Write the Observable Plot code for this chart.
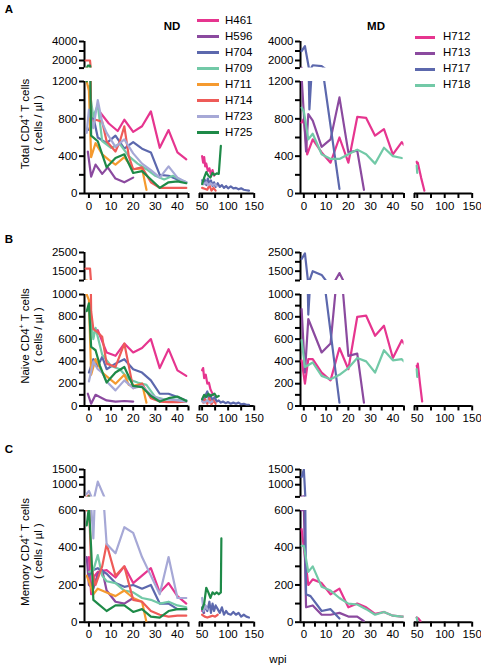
<!DOCTYPE html>
<html><head><meta charset="utf-8">
<script src="https://cdn.jsdelivr.net/npm/d3@7"></script>
<script src="https://cdn.jsdelivr.net/npm/@observablehq/plot@0.6"></script>
<style>
body{margin:0;background:#fff;font-family:"Liberation Sans",Arial,sans-serif;}
#chart{position:relative;width:481px;height:667px;overflow:hidden;background:#fff;}
.t{position:absolute;font-size:11.5px;color:#000;white-space:nowrap;line-height:1;}
.b{font-weight:bold;}
sup{font-size:7px;vertical-align:5px;line-height:0;}
</style></head><body><div id="chart"></div>
<script>
// ---------- series identity ----------
const ndIds = ["H461","H596","H704","H709","H711","H714","H723","H725"];
const ndColors = ["#e6358f","#8b4a9f","#5c68ad","#72c9a7","#f59a2f","#ee5b58","#a6a8d6","#1e8a48"];
const mdIds = ["H712","H713","H717","H718"];
const mdColors = ["#e6358f","#8b4a9f","#5c68ad","#72c9a7"];

// ---------- tick labels ----------
const weekLabels1 = [0,10,20,30,40];
const weekLabels2 = [50,100,150];
const totalLabelsTop = [2000,4000];
const totalLabelsBottom = [0,400,800,1200];
const naiveLabelsTop = [1500,2500];
const naiveLabelsBottom = [0,200,400,600,800,1000];
const memoryLabelsTop = [1000,1500];
const memoryLabelsBottom = [0,200,400,600];

// ---------- Panel A: total CD4+ T cells [week, cells/ul] ----------
const total_H461 = [[5,870],[9,750],[13,670],[16,790],[20,660],[24,720],[28,880],[32,490],[36,680],[40,440],[44,365],[50,400],[52,330],[54,390],[56,290],[58,320],[61,240],[64,270],[67,200],[70,250],[73,190]];
const total_H596 = [[-0.5,450],[1,180],[3,310],[6,210],[8.5,280],[12,160],[16,120],[20,170]];
const total_H704 = [[0,680],[2,820],[4,600],[8,540],[12,620],[16,480],[20,550],[24,480],[28,440],[32,200],[36,190],[40,150],[44,120],[50,140],[52,100],[55,150],[58,90],[61,160],[64,100],[67,140],[70,80],[73,120],[76,70],[80,110],[84,70],[88,90],[92,60],[96,80],[100,55],[105,75],[110,55],[115,60],[120,45],[125,55],[130,40],[135,35],[140,30]];
const total_H709 = [[0,1150],[2,820],[4,950],[6,560],[10,490],[14,530],[18,400],[22,320],[26,260],[30,190],[34,150],[38,190],[42,140],[44,120]];
const total_H711 = [[-1,1200],[0,1100],[1,390],[3,540],[6,420],[9,360],[12,310],[16,390],[20,260],[24,270],[26,40]];
const total_H714 = [[-1.5,2000],[0.5,2000],[1,760],[3,790],[6,770],[8,560],[12,450],[14,560],[16,720],[18,400],[20,260],[24,280],[28,120],[32,60],[36,60],[40,60],[44,60],[50,60],[55,50],[60,40],[64,90],[68,30],[72,60],[76,30]];
const total_H723 = [[-1,650],[0,900],[2,700],[4,1000],[6,760],[8,650],[12,500],[16,580],[20,430],[24,320],[28,250],[32,170],[36,290],[40,170],[44,120],[50,130],[54,100],[58,120],[62,90],[66,110],[70,90],[74,100],[78,80]];
const total_H725 = [[-1,1200],[-0.5,1450],[0.5,1450],[1,620],[4,560],[8,280],[12,380],[16,420],[20,220],[24,240],[28,150],[32,60],[36,120],[40,130],[44,110],[50,100],[54,170],[58,230],[62,190],[66,170],[70,220],[74,200],[78,215],[82,210],[86,510]];
const total_H712 = [[-1,760],[0,800],[1.5,420],[4,580],[8,440],[12,330],[16,600],[20,330],[24,820],[28,810],[32,620],[36,690],[40,420],[44,550],[45,520],[49,340],[50,320],[51,330],[57,170],[63,30]];
const total_H713 = [[-1,1250],[1,450],[2,850],[4,780],[8,500],[12,580],[16,1030],[20,440],[24,460],[27,40]];
const total_H717 = [[-1,3000],[0.5,3500],[2.5,900],[4,1500],[8,1400],[16,50]];
const total_H718 = [[-1,920],[0,880],[2,580],[4,640],[8,420],[12,370],[16,370],[20,420],[24,470],[28,420],[32,320],[36,490],[40,400],[44,380],[49,300],[50,220]];

// ---------- Panel B: naive CD4+ T cells ----------
const naive_H461 = [[1,700],[4,680],[6,580],[8,480],[12,450],[16,560],[20,480],[24,520],[28,600],[32,340],[36,510],[40,320],[44,270],[50,320],[52,340],[54,250],[57,280],[60,200],[63,210],[66,150],[69,120],[72,100]];
const naive_H596 = [[-0.5,110],[1,20],[3,100],[6,70],[8,50],[12,40],[16,45],[20,40]];
const naive_H704 = [[0,300],[2,420],[4,360],[6,440],[8,330],[12,380],[16,420],[20,330],[24,300],[28,230],[32,110],[36,110],[40,80],[44,50],[50,60],[53,40],[56,90],[60,130],[63,60],[66,100],[70,50],[74,80],[78,40],[82,50],[86,30],[90,40],[95,25],[100,35],[105,20],[110,30],[115,20],[120,30],[125,15],[130,20],[135,10],[140,10]];
const naive_H709 = [[0,900],[2,600],[3,700],[6,460],[10,360],[14,330],[18,240],[22,210],[26,190],[30,80],[34,60],[38,60],[42,50],[44,50]];
const naive_H711 = [[-1,1000],[0,950],[1,280],[3,420],[6,300],[9,250],[12,200],[16,280],[18,190],[20,180],[24,200],[26,30]];
const naive_H714 = [[-1.5,1640],[0.5,1640],[1,850],[2,690],[4,660],[6,620],[8,380],[12,350],[16,560],[18,360],[20,160],[24,200],[28,70],[32,40],[36,35],[40,35],[44,40],[52,30],[56,60],[60,20],[64,70],[68,15],[72,50],[76,20]];
const naive_H723 = [[0,220],[2,400],[4,330],[6,300],[8,220],[12,140],[16,230],[20,160],[24,180],[28,100],[32,60],[36,60],[40,50],[44,40],[50,40],[55,30],[60,50],[65,30],[70,40]];
const naive_H725 = [[-1,850],[0,920],[1,530],[3,500],[5,360],[8,210],[12,300],[16,350],[20,180],[24,170],[28,90],[32,40],[36,70],[40,85],[44,45],[50,60],[54,100],[58,80],[62,110],[66,90],[70,100],[74,110],[78,80],[82,90]];
const naive_H712 = [[-1,410],[0.5,200],[2,420],[4,420],[8,300],[12,230],[16,520],[20,330],[24,800],[28,810],[32,630],[36,720],[40,430],[44,590],[45,560],[49,360],[50,340],[51,380],[55,200],[59,40]];
const naive_H713 = [[-1,870],[0.5,300],[2,780],[8,480],[12,560],[16,1400],[20,450],[24,470],[27,30]];
const naive_H717 = [[-1,2150],[0.5,2450],[2,820],[4,1500],[8,1300],[16,30]];
const naive_H718 = [[-1,590],[0.5,350],[4,390],[8,270],[12,240],[16,280],[20,340],[24,430],[28,400],[32,300],[36,500],[40,410],[44,420],[45,400],[49,330],[50,260]];

// ---------- Panel C: memory CD4+ T cells ----------
const memory_H461 = [[0,350],[1,150],[2,240],[4,270],[8,280],[12,240],[16,300],[20,210],[24,250],[28,290],[32,160],[36,210],[40,140],[44,100],[50,60],[52,80],[54,50]];
const memory_H596 = [[-1,350],[0,200],[2,180],[4,260],[6,280],[8,170],[12,110],[16,100],[20,130]];
const memory_H704 = [[0,250],[2,280],[4,290],[8,260],[12,210],[16,190],[20,200],[24,180],[28,200],[32,100],[36,100],[40,70],[44,70],[50,80],[53,50],[56,90],[60,60],[64,110],[67,50],[70,100],[73,60],[76,90],[80,70],[84,50],[88,80],[92,40],[96,60],[100,45],[105,40],[110,55],[115,40],[120,50],[125,30],[130,40],[135,30],[140,25]];
const memory_H709 = [[0,270],[2,280],[4,360],[6,250],[8,220],[12,210],[16,170],[20,160],[24,130],[28,120],[32,100],[36,110],[40,90],[44,80]];
const memory_H711 = [[-1,250],[0,220],[2,150],[4,180],[8,160],[12,140],[16,170],[18,150],[20,130],[24,110],[26,0]];
const memory_H714 = [[-1,600],[0,650],[1,300],[3,200],[6,300],[8,420],[12,250],[16,300],[20,120],[24,110],[28,60],[32,40],[36,30],[40,35],[44,35],[50,40],[55,30],[60,25],[65,30],[70,35],[75,30],[80,40]];
const memory_H723 = [[-1,700],[0,800],[2,450],[4,1100],[8,420],[12,370],[16,510],[20,480],[24,350],[28,250],[32,150],[36,350],[40,130],[44,130],[50,130],[53,60],[56,90],[60,70]];
const memory_H725 = [[-1,520],[0,620],[1,400],[2,120],[4,100],[8,60],[12,90],[16,90],[20,55],[24,70],[28,30],[32,25],[36,60],[40,70],[44,70],[50,70],[54,100],[58,185],[62,160],[66,130],[70,160],[74,150],[78,160],[82,150],[86,160],[87,450]];
const memory_H712 = [[-1,500],[2,200],[4,230],[8,210],[12,150],[16,180],[20,80],[24,100],[28,80],[32,45],[36,55],[40,35],[44,30],[45,30],[49,25],[52,20],[56,5]];
const memory_H713 = [[-1,600],[0,620],[1,80],[4,90],[8,40],[12,40],[16,50],[20,30],[24,30],[27,5]];
const memory_H717 = [[-1,1250],[0,1500],[1,150],[3,140],[8,60],[12,70],[16,20]];
const memory_H718 = [[-1,410],[0,410],[2,270],[4,300],[8,190],[12,170],[16,130],[20,100],[24,95],[28,70],[32,40],[36,55],[40,35],[44,30],[45,30],[49,25],[50,10]];

// ---------- build tables ----------
function table(byId){return Object.entries(byId).flatMap(([id,pts])=>pts.map(([week,value])=>({id,week,value})));}
const data = {
  A:{nd:table({H461:total_H461,H596:total_H596,H704:total_H704,H709:total_H709,H711:total_H711,H714:total_H714,H723:total_H723,H725:total_H725}),
     md:table({H712:total_H712,H713:total_H713,H717:total_H717,H718:total_H718})},
  B:{nd:table({H461:naive_H461,H596:naive_H596,H704:naive_H704,H709:naive_H709,H711:naive_H711,H714:naive_H714,H723:naive_H723,H725:naive_H725}),
     md:table({H712:naive_H712,H713:naive_H713,H717:naive_H717,H718:naive_H718})},
  C:{nd:table({H461:memory_H461,H596:memory_H596,H704:memory_H704,H709:memory_H709,H711:memory_H711,H714:memory_H714,H723:memory_H723,H725:memory_H725}),
     md:table({H712:memory_H712,H713:memory_H713,H717:memory_H717,H718:memory_H718})}
};

const FONT = '"Liberation Sans", Arial, sans-serif';
const root = document.getElementById("chart");

function seg({fx, fy, xDomain, yDomain, rows, ids, colors, xTicks, xLabels, yTicks, yLabels}) {
  const mL = 44, mR = 8, mT = 8, mB = 28;
  const fw = fx[1]-fx[0], fh = fy[1]-fy[0];
  const marks = [];
  if (yTicks) {
    marks.push(Plot.axisY({ticks: yTicks, tickSize: 5, tickPadding: 2, strokeWidth: 2, label: null,
      tickFormat: d => yLabels.includes(d) ? String(d) : ""}));
    marks.push(Plot.ruleX([xDomain[0]], {strokeWidth: 2}));
  }
  if (xTicks) {
    marks.push(Plot.axisX({ticks: xTicks, tickSize: 5, tickPadding: 3, strokeWidth: 2, label: null,
      tickFormat: d => xLabels.includes(d) ? String(d) : ""}));
    marks.push(Plot.ruleY([yDomain[0]], {strokeWidth: 2}));
  }
  marks.push(Plot.line(rows, {x: "week", y: "value", z: "id", stroke: "id", strokeWidth: 2.2, clip: true}));
  const svg = Plot.plot({
    width: fw+mL+mR, height: fh+mT+mB, marginLeft: mL, marginRight: mR, marginTop: mT, marginBottom: mB,
    x: {domain: xDomain, axis: null}, y: {domain: yDomain, axis: null},
    color: {domain: ids, range: colors},
    style: {background: "transparent", overflow: "visible", color: "#000", fontFamily: FONT, fontSize: "11.5px"},
    marks
  });
  svg.style.position = "absolute";
  svg.style.left = (fx[0]-mL)+"px";
  svg.style.top = (fy[0]-mT)+"px";
  root.appendChild(svg);
}

const groups = {
  nd: {x1:[84,188], d1:[-2,45], x2:[199.3,254], ids: ndIds, colors: ndColors},
  md: {x1:[300,403.5], d1:[-1.5,45], x2:[414,471.7], ids: mdIds, colors: mdColors}
};
const panels = [
  {key:"A", top:[41,67.6], bot:[80.7,192.7], tDom:[1200,4000], bDom:[0,1200],
   tTicks:[1200,2000,3000,4000], tLabels: totalLabelsTop, bTicks:d3.range(0,1201,200), bLabels: totalLabelsBottom},
  {key:"B", top:[252.3,280.3], bot:[294,405.5], tDom:[1000,2500], bDom:[0,1000],
   tTicks:[1000,1500,2000,2500], tLabels: naiveLabelsTop, bTicks:d3.range(0,1001,100), bLabels: naiveLabelsBottom},
  {key:"C", top:[469.3,496.7], bot:[510,621.7], tDom:[600,1500], bDom:[0,600],
   tTicks:[600,1000,1250,1500], tLabels: memoryLabelsTop, bTicks:d3.range(0,601,100), bLabels: memoryLabelsBottom}
];
const xTicks1 = d3.range(0,46,5);
const xTicks2 = [45,50,75,100,125,150];

for (const p of panels) {
  for (const g of ["nd","md"]) {
    const G = groups[g];
    const rows = data[p.key][g];
    const rows1 = rows.filter(d => d.week <= 45.5);
    const rows2 = rows.filter(d => d.week >= 46);
    seg({fx:G.x1, fy:p.top, xDomain:G.d1, yDomain:p.tDom, rows:rows1, ids:G.ids, colors:G.colors,
         yTicks:p.tTicks, yLabels:p.tLabels});
    seg({fx:G.x1, fy:p.bot, xDomain:G.d1, yDomain:p.bDom, rows:rows1, ids:G.ids, colors:G.colors,
         yTicks:p.bTicks, yLabels:p.bLabels, xTicks:xTicks1, xLabels:weekLabels1});
    seg({fx:G.x2, fy:p.bot, xDomain:[45,150], yDomain:p.bDom, rows:rows2, ids:G.ids, colors:G.colors,
         xTicks:xTicks2, xLabels:weekLabels2});
  }
}

// ---------- text ----------
function txt(html, cx, cy, cls = "", rot = false) {
  const el = document.createElement("div");
  el.className = "t " + cls;
  el.innerHTML = html;
  el.style.left = cx + "px";
  el.style.top = cy + "px";
  el.style.transform = "translate(-50%,-50%)" + (rot ? " rotate(-90deg)" : "");
  root.appendChild(el);
}
txt("A", 9, 10, "b");
txt("B", 9, 240, "b");
txt("C", 9, 450, "b");
txt("ND", 172, 27, "b");
txt("MD", 376, 27, "b");
txt("wpi", 278, 660);
const yTitles = [["Total CD4<sup>+</sup> T cells", 124], ["Naive CD4<sup>+</sup> T cells", 336], ["Memory CD4<sup>+</sup> T cells", 552]];
for (const [t, cy] of yTitles) { txt(t, 26, cy, "", true); txt("( cells / µl )", 39, cy - 1, "", true); }

// ---------- legends ----------
function legend(ids, colors, x0, x1, tx, y0) {
  ids.forEach((id, i) => {
    const y = y0 + 16 * i;
    const ln = document.createElement("div");
    ln.style.cssText = `position:absolute;left:${x0}px;top:${y-1.25}px;width:${x1-x0}px;height:2.5px;background:${colors[i]}`;
    root.appendChild(ln);
    const el = document.createElement("div");
    el.className = "t";
    el.textContent = id;
    el.style.left = tx + "px";
    el.style.top = (y - 6) + "px";
    root.appendChild(el);
  });
}
legend(ndIds, ndColors, 197, 219, 225, 20.7);
legend(mdIds, mdColors, 415, 435, 443, 37.3);
</script></body></html>
